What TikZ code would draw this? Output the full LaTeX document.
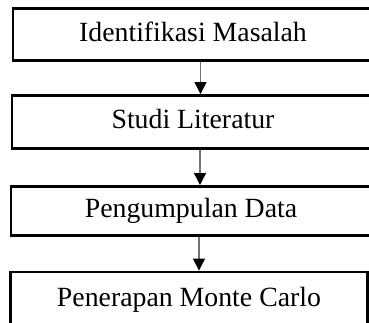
\documentclass[tikz,border=0pt]{standalone}
\usepackage{fontspec}
\setmainfont{Liberation Serif}
\usetikzlibrary{arrows.meta,positioning}

\tikzset{
  tahap/.style={draw=black, line width=2.9pt, rectangle, inner sep=0pt,
    minimum width=370pt, minimum height=52pt,
    font=\fontsize{27.8}{33}\selectfont, text height=19pt, text depth=6pt},
  panah/.style={draw=black!55, line width=1.2pt,
    -{Triangle[length=12pt,width=12pt,fill=black,color=black]}}
}

\begin{document}
\begin{tikzpicture}[x=1pt,y=-1pt]
    \useasboundingbox (0,0) rectangle (369,322);
    \clip (0,0) rectangle (369,322);

    % kotak tahapan
    \node[tahap] (identifikasi) at (198,34.5) {Identifikasi Masalah\hspace*{10pt}};
    \node[tahap, minimum width=372pt, minimum height=53pt] (literatur) at (198,122) {Studi Literatur\hspace*{10pt}};
    \node[tahap, minimum height=49pt] (pengumpulan) at (196,211) {Pengumpulan Data\hspace*{10pt}};
    \node[tahap, minimum width=357pt, minimum height=56pt] (montecarlo) at (189,300) {Penerapan Monte Carlo};

    % panah
    \draw[panah] ([xshift=2.5pt]identifikasi.south) -- ([xshift=2.5pt]identifikasi.south |- literatur.north);
    \draw[panah] ([xshift=2pt]literatur.south) -- ([xshift=2pt]literatur.south |- pengumpulan.north);
    \draw[panah] ([xshift=3pt]pengumpulan.south) -- ([xshift=3pt]pengumpulan.south |- montecarlo.north);
\end{tikzpicture}
\end{document}
